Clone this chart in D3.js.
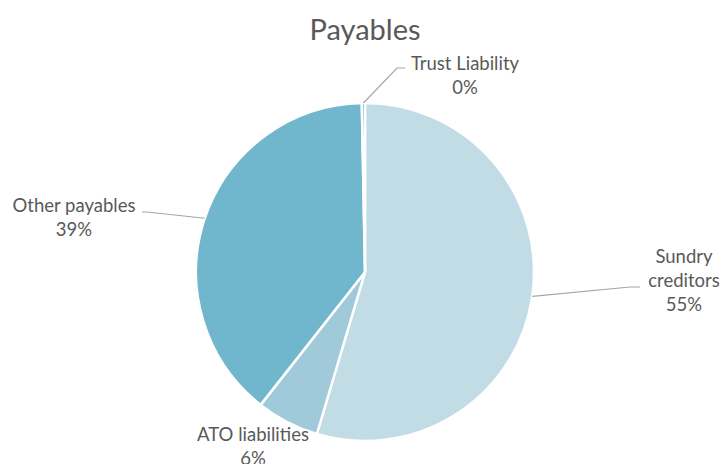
<!DOCTYPE html>
<html><head><meta charset="utf-8">
<script src="https://cdn.jsdelivr.net/npm/d3@7/dist/d3.min.js"></script>
<style>
html,body{margin:0;padding:0;background:#fff;}
text{font-family:Lato,"Open Sans",sans-serif;fill:#595959;}
</style></head>
<body>
<svg id="chart" width="722" height="464"></svg>
<script>
const categories = ["Sundry creditors", "ATO liabilities", "Other payables", "Trust Liability"];
const values = [54.6, 6.0, 39.1, 0.3];
const colors = ["#c1dce5", "#a0cad9", "#70b6cc", "#5aa6c0"];
// label line texts
const labelLines = [["Sundry", "creditors", "55%"], ["ATO liabilities", "6%"], ["Other payables", "39%"], ["Trust Liability", "0%"]];
// label layout: text centre x, first baseline y, leader elbow and end (null = no leader)
const labelLayout = [
  {x: 684, y: 263, elbow: [630, 287], end: [640, 287]},
  {x: 253, y: 441, elbow: null, end: null},
  {x: 74, y: 212, elbow: [147, 212], end: [142, 212]},
  {x: 465, y: 70, elbow: [397, 68], end: [405, 68]}
];

const svg = d3.select("#chart");
const cx = 365, cy = 272, r = 169;

svg.append("text").attr("x", cx).attr("y", 40).attr("text-anchor", "middle")
  .style("font-size", "29px").text("Payables");

const pie = d3.pie().sort(null).value(d => d.v);
const data = pie(categories.map((c, i) => ({c, v: values[i], i})));
const arc = d3.arc().innerRadius(0).outerRadius(r);

const g = svg.append("g").attr("transform", `translate(${cx},${cy})`);
g.selectAll("path.slice").data(data).join("path")
  .attr("class", "slice")
  .attr("d", arc)
  .attr("fill", d => colors[d.data.i])
  .attr("stroke", "#fff").attr("stroke-width", 2.5).attr("stroke-linejoin", "round");

// leader lines
data.forEach(d => {
  const L = labelLayout[d.data.i];
  if (!L.elbow) return;
  const a = (d.startAngle + d.endAngle) / 2;
  const sx = cx + r * Math.sin(a), sy = cy - r * Math.cos(a);
  svg.append("polyline")
    .attr("points", `${sx},${sy} ${L.elbow[0]},${L.elbow[1]} ${L.end[0]},${L.end[1]}`)
    .attr("fill", "none").attr("stroke", "#a6a6a6").attr("stroke-width", 1.2);
});

// labels
data.forEach(d => {
  const L = labelLayout[d.data.i];
  const t = svg.append("text").attr("text-anchor", "middle").style("font-size", "18.5px");
  labelLines[d.data.i].forEach((s, k) => {
    t.append("tspan").attr("x", L.x).attr("y", L.y + k * 24).text(s);
  });
});
</script>
</body></html>
